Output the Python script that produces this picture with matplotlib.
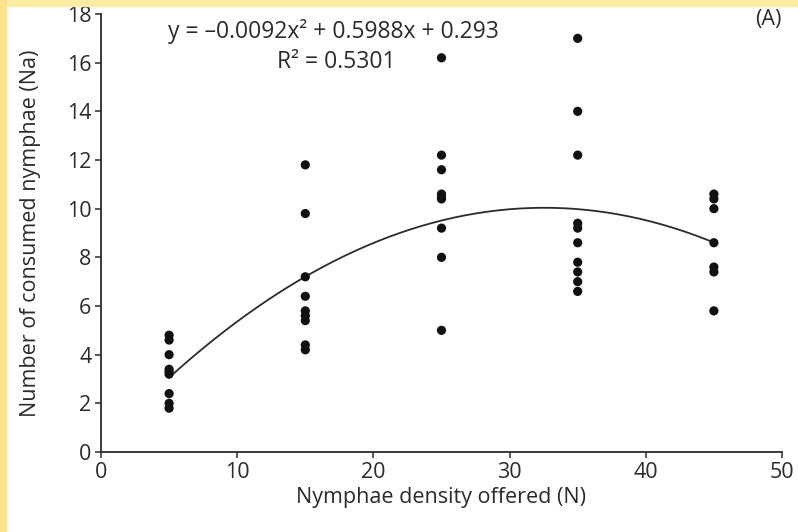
import matplotlib
matplotlib.use("Agg")
import matplotlib.pyplot as plt
import numpy as np

# density offered and consumed nymphae per replicate
x_levels = [5, 15, 25, 35, 45]
na_5 = [4.8, 4.6, 4.0, 3.4, 3.3, 3.2, 2.4, 2.0, 1.8]
na_15 = [11.8, 9.8, 7.2, 6.4, 5.8, 5.6, 5.4, 4.4, 4.2]
na_25 = [16.2, 12.2, 11.6, 10.6, 10.5, 10.4, 9.2, 8.0, 5.0]
na_35 = [17.0, 14.0, 12.2, 9.4, 9.2, 8.6, 7.8, 7.4, 7.0, 6.6]
na_45 = [10.6, 10.4, 10.0, 8.6, 7.6, 7.4, 5.8]

# fitted quadratic
coef = [-0.0092, 0.5988, 0.293]
xticks = [0, 10, 20, 30, 40, 50]
yticks = [0, 2, 4, 6, 8, 10, 12, 14, 16, 18]

plt.rcParams['font.family'] = ['Open Sans', 'DejaVu Sans']

ink = '#2b2b2b'
fig = plt.figure(figsize=(7.98, 5.32), dpi=100)
fig.patch.set_facecolor('white')

# yellow frame strips at top and left
fig.patches.append(plt.Rectangle((0, 1 - 6 / 532), 1, 6 / 532, transform=fig.transFigure,
                                 color='#fdeca4', zorder=0))
fig.patches.append(plt.Rectangle((0, 0), 6 / 798, 1, transform=fig.transFigure,
                                 color='#fde28e', zorder=0))

ax = fig.add_axes([101 / 798, 1 - 452 / 532, 681 / 798, 438 / 532])

groups = [na_5, na_15, na_25, na_35, na_45]
for xv, vals in zip(x_levels, groups):
    ax.scatter([xv] * len(vals), vals, s=44, color='#111111', edgecolors='none', zorder=3)

xs = np.linspace(x_levels[0], x_levels[-1], 200)
ax.plot(xs, np.polyval(coef, xs), color=ink, lw=1.3, zorder=2)

ax.set_xlim(0, 50)
ax.set_ylim(0, 18)
ax.set_xticks(xticks)
ax.set_yticks(yticks)
ax.spines['top'].set_visible(False)
ax.spines['right'].set_visible(False)
for s in ['left', 'bottom']:
    ax.spines[s].set_color(ink)
    ax.spines[s].set_linewidth(1.3)
ax.tick_params(direction='out', length=4, width=1.1, colors=ink, labelsize=15.5, pad=3)

ax.set_xlabel('Nymphae density offered (N)', fontsize=15.5, color=ink, va='center')
ax.set_ylabel('Number of consumed nymphae (Na)', fontsize=15.5, color=ink, va='center')
ax.xaxis.set_label_coords(0.5, -0.103)
ax.yaxis.set_label_coords(-0.103, 0.5)

ax.text(0.342, 0.961, 'y = \u20130.0092x\u00b2 + 0.5988x + 0.293', transform=ax.transAxes,
        ha='center', va='center', fontsize=16.5, color=ink)
ax.text(0.345, 0.89, 'R\u00b2 = 0.5301', transform=ax.transAxes,
        ha='center', va='center', fontsize=16.5, color=ink)
ax.text(1.0, 0.988, '(A)', transform=ax.transAxes, ha='right', va='center',
        fontsize=15.5, color=ink)

fig.savefig('out.png', dpi=100)
